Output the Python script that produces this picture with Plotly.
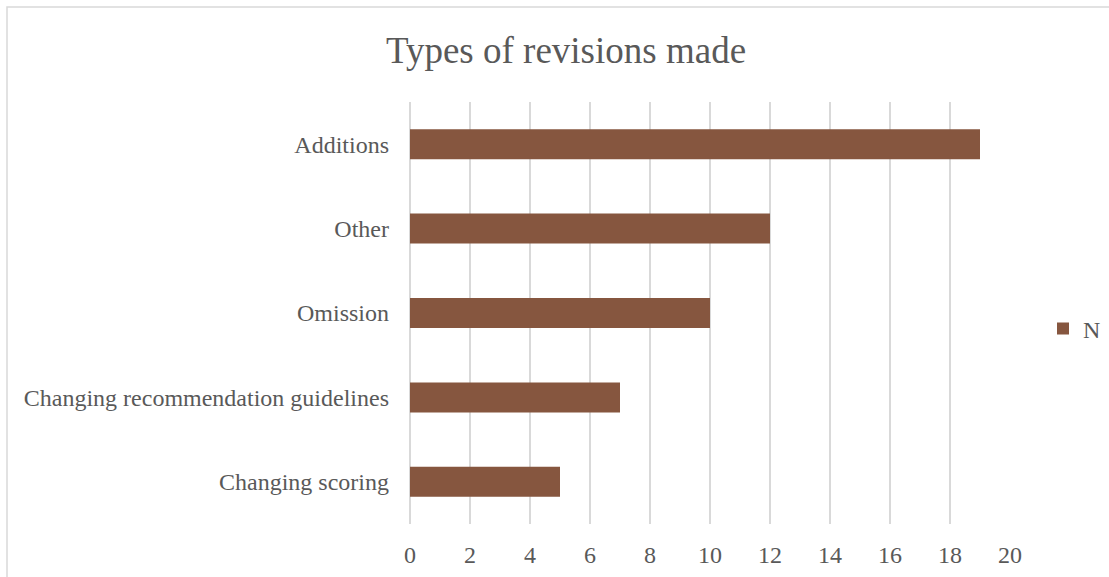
import plotly.graph_objects as go

categories = ["Changing scoring", "Changing recommendation guidelines", "Omission", "Other", "Additions"]
values = [5, 7, 10, 12, 19]
series_name = "N"
tick_vals = list(range(0, 21, 2))

W, H = 1109, 577
L, R, T, B = 410, 99, 102, 53
pw = W - L - R

fig = go.Figure()
fig.add_trace(go.Bar(
    y=categories, x=values, orientation="h", name=series_name,
    marker=dict(color="#86563F", line=dict(width=0)),
    showlegend=True,
))

fig.update_layout(
    width=W, height=H,
    margin=dict(l=L, r=R, t=T, b=B, pad=0, autoexpand=False),
    paper_bgcolor="white", plot_bgcolor="white",
    bargap=0.645,
    font=dict(family="Liberation Serif, Times New Roman, serif", color="#595959", size=24),
    title=dict(text="Types of revisions made", x=566 / W, xanchor="center",
               y=1 - 50 / H, yanchor="middle",
               font=dict(size=37, color="#595959", family="Liberation Serif, serif")),
    xaxis=dict(range=[0, 20], tickvals=tick_vals, showgrid=True, gridcolor="#d9d9d9", gridwidth=1.5,
               zeroline=True, zerolinecolor="#d9d9d9", zerolinewidth=1.5,
               showline=False, ticks="", tickfont=dict(size=24, color="#595959"),
               ticklabelstandoff=14, automargin=False),
    yaxis=dict(showgrid=False, zeroline=False, showline=False, ticks="",
               ticklabelstandoff=20, automargin=False,
               tickfont=dict(size=24, color="#595959")),
    legend=dict(xref="container", x=1043 / W, xanchor="left", yref="container", y=1 - 329 / H,
                yanchor="middle",
                font=dict(size=24, color="#595959"), bgcolor="rgba(0,0,0,0)",
                itemwidth=30),
    shapes=[dict(type="rect", xref="paper", yref="paper",
                 x0=(7 - L) / pw, x1=(W + 5 - L) / pw,
                 y0=-(H + 5 - (H - B)) / (H - T - B), y1=1 + (T - 7) / (H - T - B),
                 line=dict(color="#d9d9d9", width=1.5), fillcolor="rgba(0,0,0,0)", layer="below")],
)

fig.write_html("out.html")
